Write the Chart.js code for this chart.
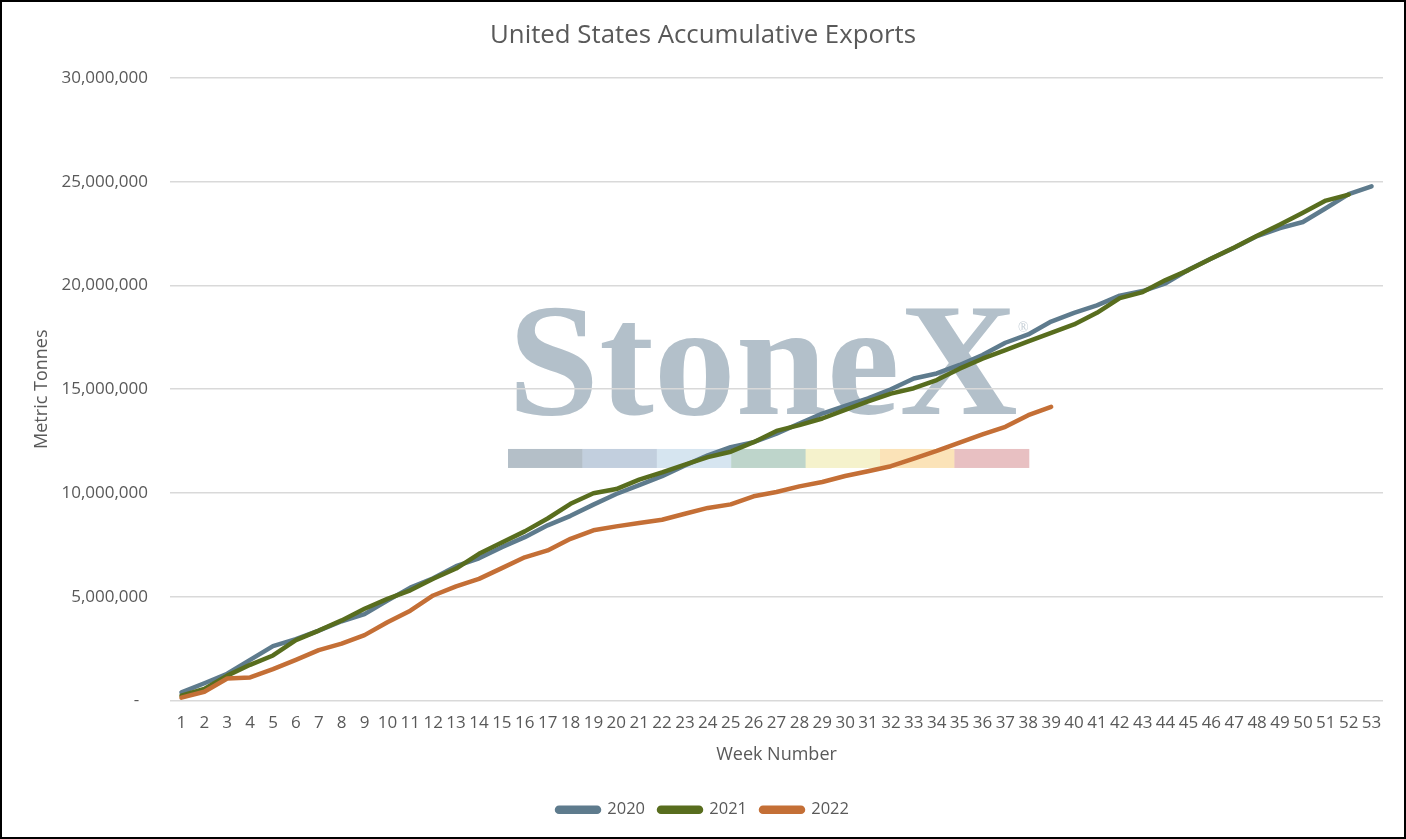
<!DOCTYPE html>
<html>
<head>
<meta charset="utf-8">
<script src="https://cdn.jsdelivr.net/npm/chart.js@4"></script>
<style>
  html, body { margin: 0; padding: 0; background: #fff; }
  #wrap {
    box-sizing: border-box;
    width: 1406px;
    height: 839px;
    border: 2px solid #000;
    position: relative;
  }
</style>
</head>
<body>
<div id="wrap"><canvas id="myChart"></canvas></div>
<script>
const weeks = [
  "1", "2", "3", "4", "5", "6", "7", "8", "9", "10", "11", "12", "13", "14", "15",
  "16", "17", "18", "19", "20", "21", "22", "23", "24", "25", "26", "27", "28", "29",
  "30", "31", "32", "33", "34", "35", "36", "37", "38", "39", "40", "41", "42", "43",
  "44", "45", "46", "47", "48", "49", "50", "51", "52", "53",
];

const exports2020 = [
  390000, 830000, 1290000, 1960000, 2620000, 2960000, 3370000, 3820000, 4160000, 4810000,
  5440000, 5890000, 6470000, 6850000, 7390000, 7870000, 8440000, 8900000, 9440000, 9950000,
  10380000, 10810000, 11330000, 11810000, 12210000, 12450000, 12860000, 13350000, 13830000, 14200000,
  14560000, 15000000, 15520000, 15760000, 16170000, 16650000, 17240000, 17640000, 18260000, 18680000,
  19040000, 19510000, 19730000, 20100000, 20760000, 21300000, 21820000, 22380000, 22760000, 23060000,
  23720000, 24400000, 24780000,
];

const exports2021 = [
  230000, 560000, 1200000, 1720000, 2170000, 2910000, 3370000, 3860000, 4420000, 4900000,
  5310000, 5870000, 6360000, 7070000, 7610000, 8150000, 8770000, 9480000, 9990000, 10190000,
  10640000, 10990000, 11370000, 11730000, 11990000, 12450000, 12990000, 13270000, 13590000, 14010000,
  14410000, 14790000, 15050000, 15440000, 15990000, 16470000, 16880000, 17310000, 17720000, 18120000,
  18680000, 19390000, 19680000, 20260000, 20740000, 21300000, 21830000, 22400000, 22940000, 23510000,
  24090000, 24380000,
];

const exports2022 = [
  140000, 420000, 1060000, 1110000, 1510000, 1960000, 2430000, 2740000, 3150000, 3770000,
  4330000, 5060000, 5500000, 5860000, 6380000, 6900000, 7230000, 7790000, 8200000, 8390000,
  8550000, 8710000, 9000000, 9280000, 9450000, 9840000, 10050000, 10320000, 10530000, 10820000,
  11050000, 11290000, 11660000, 12030000, 12430000, 12820000, 13190000, 13750000, 14150000,
];

const yTickValues = [0, 5000000, 10000000, 15000000, 20000000, 25000000, 30000000];

const textColor = "#595959";
const fontFamily = "'Open Sans', 'Noto Sans', sans-serif";

// StoneX watermark drawn behind the grid
const watermark = {
  id: "watermark",
  beforeDraw(chart) {
    const { ctx, chartArea } = chart;
    const x0 = chartArea.left + 338;
    const baseY = chartArea.top + 336;
    ctx.save();
    ctx.font = "bold 160px 'Liberation Serif', 'DejaVu Serif', serif";
    ctx.fillStyle = "#B3C0CA";
    ctx.textBaseline = "alphabetic";
    const w = ctx.measureText("StoneX").width;
    const sx = 510 / w;
    ctx.translate(x0, baseY);
    ctx.scale(sx, 1);
    ctx.fillText("StoneX", 0, 0);
    ctx.restore();

    ctx.save();
    ctx.font = "14px 'Liberation Serif', serif";
    ctx.fillStyle = "#C3CDD5";
    ctx.fillText("\u00AE", x0 + 510, chartArea.top + 250);
    ctx.restore();

    const barColors = ["#B4BFC8", "#C2CFDE", "#D6E5F0", "#BED5CB", "#F5F2CC", "#FBE3B8", "#E8C0C2"];
    const segW = 74.4;
    ctx.save();
    barColors.forEach((c, i) => {
      ctx.fillStyle = c;
      ctx.fillRect(x0 + i * segW, chartArea.top + 371, segW + 0.5, 19);
    });
    ctx.restore();
  },
};

const ctx = document.getElementById("myChart");

new Chart(ctx, {
  type: "line",
  data: {
    labels: weeks,
    datasets: [
      {
        label: "2020",
        data: exports2020,
        borderColor: "#5E7B8D",
        backgroundColor: "#5E7B8D",
        order: 3,
      },
      {
        label: "2021",
        data: exports2021,
        borderColor: "#586D1E",
        backgroundColor: "#586D1E",
        order: 2,
      },
      {
        label: "2022",
        data: exports2022,
        borderColor: "#C46F36",
        backgroundColor: "#C46F36",
        order: 1,
      },
    ],
  },
  options: {
    responsive: true,
    maintainAspectRatio: false,
    animation: false,
    devicePixelRatio: 1,
    elements: {
      line: {
        borderWidth: 4.5,
        tension: 0,
        borderCapStyle: "round",
        borderJoinStyle: "round",
        fill: false,
      },
      point: { radius: 0, hoverRadius: 0 },
    },
    layout: {
      padding: { top: 0, right: 0, bottom: 9, left: 0 },
    },
    plugins: {
      tooltip: { enabled: false },
      title: {
        display: true,
        text: "United States Accumulative Exports",
        color: textColor,
        font: { family: fontFamily, size: 25.8, weight: "normal" },
        padding: { top: 18.5, bottom: 26.5 },
      },
      legend: {
        position: "bottom",
        labels: {
          color: textColor,
          font: { family: fontFamily, size: 16.5 },
          boxWidth: 42,
          boxHeight: 4,
          useBorderRadius: true,
          borderRadius: 2,
          padding: 14,
          sort: (a, b) => a.datasetIndex - b.datasetIndex,
        },
      },
    },
    scales: {
      x: {
        offset: true,
        grid: { display: false, drawTicks: false },
        border: { display: false },
        ticks: {
          color: textColor,
          font: { family: fontFamily, size: 17 },
          autoSkip: false,
          maxRotation: 0,
          padding: 12,
        },
        title: {
          display: true,
          text: "Week Number",
          color: textColor,
          font: { family: fontFamily, size: 18 },
          padding: { top: 0, bottom: 22 },
        },
        afterFit(scale) {
          scale.height = 87;
        },
      },
      y: {
        min: 0,
        max: 30000000,
        grid: { color: "#D9D9D9", lineWidth: 1.5, drawTicks: false },
        border: { display: false },
        afterBuildTicks(scale) {
          scale.ticks = yTickValues.map((v) => ({ value: v }));
        },
        ticks: {
          color: textColor,
          font: { family: fontFamily, size: 17 },
          padding: 22,
          callback: (value) => (value === 0 ? "-  " : value.toLocaleString("en-US")),
        },
        title: {
          display: true,
          text: "Metric Tonnes",
          color: textColor,
          font: { family: fontFamily, size: 18 },
          padding: { top: 29, bottom: 0 },
        },
        afterFit(scale) {
          scale.width = 168;
        },
      },
      // empty right-hand gutter so the plot ends where the reference does
      gutter: {
        type: "linear",
        position: "right",
        display: true,
        grid: { display: false, drawTicks: false },
        border: { display: false },
        ticks: { display: false },
        afterFit(scale) {
          scale.width = 21;
        },
      },
    },
  },
  plugins: [watermark],
});
</script>
</body>
</html>
